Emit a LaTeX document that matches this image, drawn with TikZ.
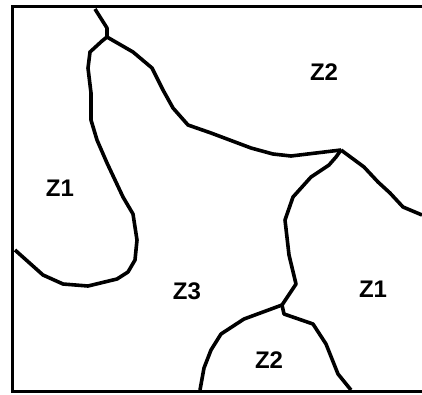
\documentclass[tikz,border=0pt]{standalone}
\usepackage{fontspec}
\setmainfont{Liberation Sans}
\begin{document}
\begin{tikzpicture}[x=1pt,y=-1pt,
  frameline/.style={line width=3pt},
  boundary/.style={line width=3.6pt,line join=round,line cap=butt},
  zone/.style={font=\fontsize{24}{24}\selectfont\bfseries,inner sep=0pt}]
\useasboundingbox (0,0) rectangle (422,394);
% frame (right side lies outside the picture)
\draw[frameline] (422,6) -- (12.8,6) -- (12.8,391.5) -- (422,391.5);
% junctions
\coordinate (J1) at (107,37);
\coordinate (J2) at (341,150);
\coordinate (J3) at (282,305);
% boundaries
\draw[boundary] (95,9) -- (107,28) -- (J1);
\draw[boundary] (J1) -- (102,41) -- (90,52) -- (88,68) -- (91,93) -- (91,120)
  -- (97,140) -- (107,163) -- (123,197) -- (133,214) -- (137,240) -- (135,260)
  -- (128,272) -- (117,279) -- (88,286) -- (63,284) -- (43,275) -- (15,250);
\draw[boundary] (J1) -- (133,52) -- (152,68) -- (163,90) -- (173,108) -- (188,125)
  -- (211,133) -- (251,148) -- (273,154) -- (291,156) -- (J2);
\draw[boundary] (J2) -- (364,167) -- (378,182) -- (390,193) -- (403,207) -- (422,215);
\draw[boundary] (J2) -- (336,157) -- (329,165) -- (311,177) -- (293,197) -- (285,220)
  -- (289,255) -- (296,284) -- (J3);
\draw[boundary] (J3) -- (244,319) -- (221,334) -- (211,350) -- (204,368) -- (200,390);
\draw[boundary] (J3) -- (284,314) -- (313,324) -- (326,344) -- (338,374) -- (351,390);
% labels
\node[zone] (z2top) at (324,72) {Z2};
\node[zone] (z1left) at (60,188) {Z1};
\node[zone] (z3) at (187,291) {Z3};
\node[zone] (z1right) at (373,289) {Z1};
\node[zone] (z2bot) at (269,360) {Z2};
\end{tikzpicture}
\end{document}
